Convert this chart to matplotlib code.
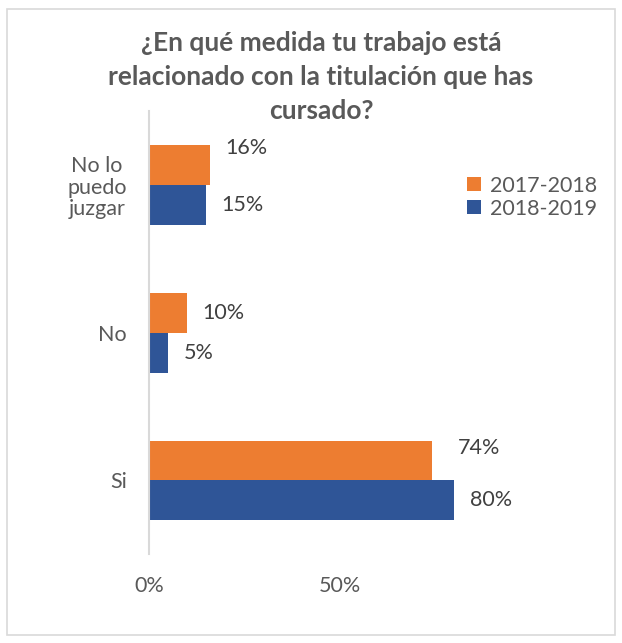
import matplotlib.pyplot as plt
import numpy as np
from matplotlib.patches import Rectangle

plt.rcParams['font.family'] = ['Lato', 'DejaVu Sans']

categorias = ['Si', 'No', 'No lo\npuedo\njuzgar']
curso_2017 = [0.74, 0.10, 0.16]
curso_2018 = [0.80, 0.05, 0.15]
series = ['2017-2018', '2018-2019']

naranja = '#ED7D31'
azul = '#2F5597'
gris = '#595959'
fs = 15.5

fig = plt.figure(figsize=(6.22, 6.43), dpi=100)
ax = fig.add_axes([0.2395, 0.138, 0.614, 0.689])

y = np.arange(len(categorias))
h = 0.27
b1 = ax.barh(y + h / 2, curso_2017, height=h, color=naranja, label=series[0])
b2 = ax.barh(y - h / 2, curso_2018, height=h, color=azul, label=series[1])

# etiquetas de datos (algunas movidas a mano como en el original)
nudge_2017 = [(8, 9), (0, 0), (0, 12)]
for bar, v, (dx, dy) in zip(b1, curso_2017, nudge_2017):
    ax.annotate(f'{v:.0%}', (bar.get_width(), bar.get_y() + bar.get_height() / 2),
                xytext=(11 + dx, dy), textcoords='offset points',
                va='center', ha='left', fontsize=fs, color='#404040')
for bar, v in zip(b2, curso_2018):
    ax.annotate(f'{v:.0%}', (bar.get_width(), bar.get_y() + bar.get_height() / 2),
                xytext=(11, 0), textcoords='offset points',
                va='center', ha='left', fontsize=fs, color='#404040')

ax.set_ylim(-0.5, len(categorias) - 0.5)
ax.set_xlim(0, 1.0)
ax.set_xticks([0, 0.5])
ax.set_xticklabels(['0%', '50%'])
ax.set_yticks(y)
ax.set_yticklabels(categorias, multialignment='center', linespacing=1.1)
ax.tick_params(axis='both', length=0, labelsize=fs, labelcolor=gris)
ax.tick_params(axis='y', pad=16)
ax.tick_params(axis='x', pad=16)
for s in ['top', 'right', 'bottom']:
    ax.spines[s].set_visible(False)
ax.spines['left'].set_color('#d9d9d9')
ax.spines['left'].set_linewidth(1.5)

fig.text(0.516, 0.952, '¿En qué medida tu trabajo está\nrelacionado con la titulación que has\ncursado?',
         ha='center', va='top', fontsize=19, fontweight='bold', color=gris,
         linespacing=1.5)

ax.legend(loc='upper left', bbox_to_anchor=(0.72, 0.757), bbox_transform=fig.transFigure,
          frameon=False, fontsize=fs, handlelength=0.65, handleheight=0.65,
          handletextpad=0.4, labelspacing=0.15, labelcolor=gris)

fig.patches.append(Rectangle((0.011, 0.012), 0.978, 0.974, transform=fig.transFigure,
                             fill=False, edgecolor='#d9d9d9', linewidth=1.2))

plt.savefig('out.png', dpi=100)
